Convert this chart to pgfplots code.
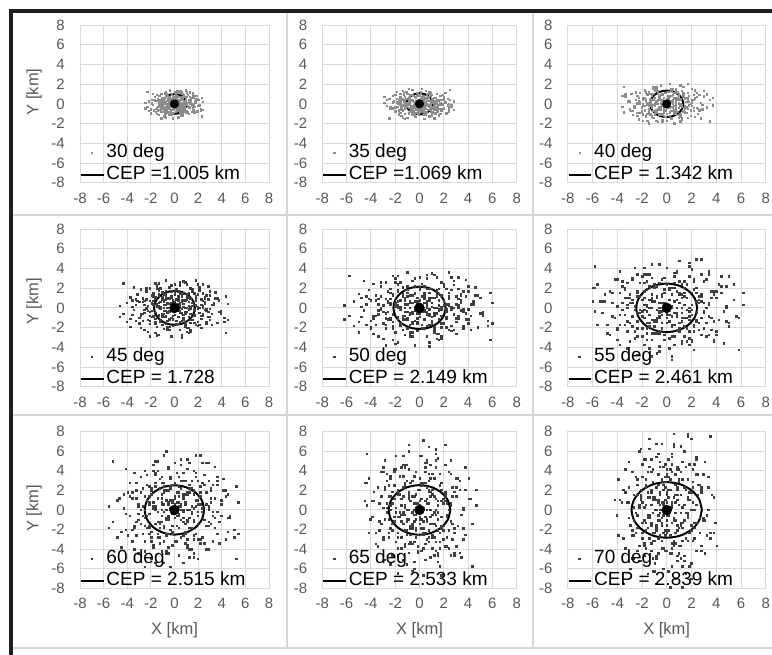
\documentclass[border=0pt]{standalone}
\usepackage{fontspec}
\setmainfont{Liberation Sans}
\usepackage{pgfplots}
\pgfplotsset{compat=1.18}

\definecolor{gridgray}{RGB}{217,217,217}
\definecolor{labelgray}{RGB}{89,89,89}
\definecolor{sepgray}{RGB}{214,214,214}
\definecolor{lightpt}{RGB}{140,140,140}
\definecolor{darkpt}{RGB}{62,62,62}

\pgfplotsset{
  cep/.style={
    scale only axis, anchor=south west,
    xmin=-8, xmax=8, ymin=-8, ymax=8,
    xtick={-8,-6,...,8}, ytick={-8,-6,...,8},
    grid=major,
    major grid style={draw=gridgray, line width=0.9pt},
    axis line style={draw=gridgray, line width=0.9pt},
    tick style={draw=none},
    /pgf/number format/assume math mode=true,
    tick label style={font=\fontsize{15}{15}\selectfont, text=labelgray, inner sep=0pt},
    xticklabel style={anchor=north, yshift=-10pt},
    yticklabel style={anchor=east, xshift=-15pt},
    legend style={at={(0,0)}, anchor=south west, yshift=-1.8pt,
      draw=none, fill=none, inner sep=0pt, outer sep=0pt,
      font=\fontsize{19}{19}\selectfont, text=black,
      row sep=3.8pt, column sep=1.7pt,
      nodes={inner sep=0pt, text height=14pt, text depth=4.5pt}},
    legend cell align=left,
    label style={font=\fontsize{16.5}{16.5}\selectfont, text=labelgray},
  },
  ylab/.style={ylabel={Y [km]}, ylabel style={at={(axis description cs:-0.243,#1)}, anchor=center}},
  xlab/.style={xlabel={X [km]}, xlabel style={at={(axis description cs:0.5,-0.266)}, anchor=center}},
  darkpts/.style={only marks, mark=square*, mark size=0.75pt, color=darkpt,
    mark options={draw=none, fill=darkpt},
    legend image code/.code={\path[draw=none, fill=none] (0pt,0pt) -- (22.6pt,0pt);
      \fill[darkpt] (9.85pt,-0.75pt) rectangle (11.35pt,0.75pt);}},
  lightpts/.style={only marks, mark=square*, mark size=0.7pt, color=lightpt,
    mark options={draw=none, fill=lightpt},
    legend image code/.code={\path[draw=none, fill=none] (0pt,0pt) -- (22.6pt,0pt);
      \fill[lightpt] (9.9pt,-0.7pt) rectangle (11.3pt,0.7pt);}},
  cepline/.style={black, line width=2pt, smooth, mark=none,
    legend image code/.code={\draw[black, line width=2.2pt] (0pt,0pt) -- (22.6pt,0pt);}},
  mip/.style={only marks, mark=*, mark size=#1, mark options={draw=none, fill=black}, forget plot},
}

\begin{document}
\begin{tikzpicture}
\useasboundingbox (0pt,0pt) rectangle (772pt,655pt);

% ---------------- 30 deg ----------------
\begin{axis}[cep, ylab=0.576, at={(80pt,472.3pt)}, width=189pt, height=157.7pt]
\addplot[lightpts] coordinates {
(0.24,-0.25) (-0.96,0.2) (0.64,0.55) (-0.32,-0.65) (1.28,0.1) (-0.72,-0.35) (0.08,0.45) (1.68,-0.3) (-1.44,0.5) (0.48,-0.95)
(-0.16,0.05) (0.88,-0.15) (-0.56,0.8) (0.32,0.3) (-1.2,-0.6) (2.0,0.4) (-0.08,-0.4) (0.72,1.0) (-1.84,-0.1) (1.04,-0.7)
(-0.4,0.15) (0.16,-0.1) (-0.8,1.15) (1.44,0.65) (-0.24,-1.1) (0.56,0) (-1.12,0.35) (0,0.7) (2.24,-0.5) (-0.64,-0.05)
(0.8,0.25) (-1.6,-0.8) (0.4,-0.55) (-0.48,0.4) (1.12,0.9) (-0.88,-1.25) (0.24,0.15) (-2.16,0.25) (1.52,-0.2) (-0.16,0.6)
(0.64,-0.45) (-1.28,0) (0.08,-0.8) (0.96,0.45) (-0.72,0.95) (1.76,0.15) (-0.32,-0.2) (0.48,1.3) (-1.04,-0.45) (1.2,-1.0)
(-0.08,0.25) (0.72,-0.3) (-1.68,0.7) (0.32,-0.05) (-0.56,-0.85) (1.36,0.3) (-1.36,-0.25) (0.16,0.85) (1.92,-0.75) (-0.4,-0.45)
(0.88,0.75) (-0.8,0.1) (0,-0.2) (-2.0,-0.55) (0.56,-1.2) (-0.24,1.05) (1.04,0.05) (-0.96,0.6) (0.4,0.2) (2.4,0.2)
(-0.48,-0.15) (0.72,0.5) (-1.52,-1.0) (1.28,-0.4) (-0.64,0.3) (0.24,-0.7) (-1.12,1.0) (1.6,0.85) (-0.16,-0.5) (0.48,0.4)
(-2.32,-0.3) (0.96,-0.85) (-0.32,0.5) (0.08,0) (-0.88,-0.7) (1.52,1.1) (-0.72,0) (0.64,-0.1) (-1.28,0.85) (2.08,-0.15)
(-0.4,1.4) (0.32,-1.35) (-1.04,0.25) (1.12,-0.25) (-0.08,-0.9) (0.56,0.65) (-1.76,0.45) (0.8,-0.6) (-0.56,-0.3) (0.16,0.35)
(-1.44,-0.65) (1.36,0.55) (-0.24,0.2) (0.72,-1.1) (-1.2,-0.15) (1.84,0.5) (-0.48,0.7) (0.4,-0.35) (-1.92,0.05) (1.2,0.15)
(-0.8,-0.95) (0,1.2) (-0.64,-0.6) (0.88,-0.05) (-1.36,0.15) (0.24,0.75) (1.6,-0.6) (-0.32,0) (0.48,-0.75) (-0.96,-0.4)
(1.04,1.2) (-1.6,0.3) (0.64,0.1) (-0.16,-1.45) (1.44,-0.05) (-0.88,0.55) (0.32,-0.3) (-0.72,1.25) (2.32,0.6) (-0.48,-1.05)
(0.8,0.95) (-1.12,-0.8) (0.16,-0.45) (-2.48,0.1) (1.28,0.75) (-0.4,0.45) (0.56,-0.2) (-1.52,-0.4) (0.96,0.35) (-0.24,-0.15)
(0.24,1.3) (-0.96,-0.45) (0.64,-1.0) (-0.32,0.25) (1.28,-0.3) (-0.72,0.7) (0.08,-0.05) (1.68,-0.85) (-1.44,0.3) (0.48,-0.25)
(-0.16,0.85) (0.88,-0.75) (-0.56,-0.45) (0.32,0.75) (-1.2,0.1) (2.0,-0.2) (-0.08,-0.55) (0.72,-1.2) (-1.84,1.05) (1.04,0.05)
(-0.4,0.6) (0.16,0.2) (-0.8,0.2) (1.44,-0.15) (-0.24,0.5) (0.56,-1.0) (-1.12,-0.4) (0,0.3) (2.24,-0.7) (-0.64,1.0)
(0.8,0.85) (-1.6,-0.5) (0.4,0.4) (-0.48,-0.3) (1.12,-0.85) (-0.88,0.5) (0.24,0) (-2.16,-0.7) (1.52,1.1) (-0.16,0)
(0.64,-0.1) (-1.28,0.85) (0.08,-0.15) (0.96,1.4) (-0.72,-1.35) (1.76,0.25) (-0.32,-0.25) (0.48,-0.9) (-1.04,0.65) (1.2,0.45)
(-0.08,-0.6) (0.72,-0.3) (-1.68,0.35) (0.32,-0.65) (-0.56,0.55) (1.36,0.2) (-1.36,-1.1) (0.16,-0.15) (1.92,0.5) (-0.4,0.7)
(0.88,-0.35) (-0.8,0.05) (0,0.15) (-2.0,-0.95) (0.56,1.2) (-0.24,-0.6) (1.04,-0.05) (-0.96,0.15) (0.4,0.75) (2.4,-0.6)
(-0.48,0) (0.72,-0.75) (-1.52,-0.4) (1.28,1.2) (-0.64,0.3) (0.24,0.1) (-1.12,-1.45) (1.6,-0.05) (-0.16,0.55) (0.48,-0.3)
(-2.32,1.25) (0.96,0.6) (-0.32,-1.05) (0.08,0.95) (-0.88,-0.8) (1.52,-0.45) (-0.72,0.1) (0.64,0.75) (-1.28,0.45) (2.08,-0.2)
(-0.4,-0.4) (0.32,0.35) (-1.04,-0.15) (1.12,-0.25) (-0.08,0.2) (0.56,0.55) (-1.76,-0.65) (0.8,0.1) (-0.56,-0.35) (0.16,0.45)
(-1.44,-0.3) (1.36,0.5) (-0.24,-0.95) (0.72,0.05) (-1.2,-0.15) (1.84,0.8) (-0.48,0.3) (0.4,-0.6) (-1.92,0.4) (1.2,-0.4)
(-0.8,1.0) (0,-0.1) (-0.64,-0.7) (0.88,0.15) (-1.36,-0.1) (0.24,1.15) (1.6,0.65) (-0.32,-1.1) (0.48,0) (-0.96,0.35)
(1.04,0.7) (-1.6,-0.5) (0.64,-0.05) (-0.16,0.25) (1.44,-0.8) (-0.88,-0.55) (0.32,0.4) (-0.72,0.9) (2.32,-1.25) (-0.48,0.15)
(0.8,0.25) (-1.12,-0.2) (0.16,0.6) (-2.48,-0.45) (1.28,0) (-0.4,-0.8) (0.56,0.45) (-1.52,0.95) (0.96,0.15) (-0.24,-0.2)
};
\addlegendentry{30 deg}
\addplot[cepline] coordinates {
(1.005,0) (0.929,0.385) (0.711,0.711) (0.385,0.929) (0,1.005) (-0.385,0.929) (-0.711,0.711) (-0.929,0.385)
(-1.005,0) (-0.929,-0.385) (-0.711,-0.711) (-0.385,-0.929) (0,-1.005) (0.385,-0.929) (0.711,-0.711) (0.929,-0.385) (1.005,0)
};
\addlegendentry{CEP =1.005 km}
\addplot[mip=4.3pt] coordinates {(0,0)};
\end{axis}

% ---------------- 35 deg ----------------
\begin{axis}[cep, at={(322.3pt,472.3pt)}, width=194.4pt, height=157.7pt]
\addplot[lightpts] coordinates {
(-0.5,-0.15) (0.4,0.6) (1.1,-0.4) (-1.3,0.2) (0.2,-0.8) (-0.7,0.45) (0.9,-0.05) (-0.6,-1.05) (1.0,0.9) (-1.9,-0.3)
(0.1,0.1) (-0.3,-0.55) (1.6,0.35) (0.6,-0.2) (-1.2,0.75) (0.8,-1.25) (-0.8,0.05) (2.0,-0.45) (-0.2,1.15) (-1.4,-0.65)
(0.3,0.25) (-0.2,-0.1) (2.3,0.5) (1.3,-0.9) (-2.2,0.15) (0,-0.35) (0.7,0.7) (1.4,0) (-1.0,-1.4) (-0.1,0.4)
(0.5,-0.5) (-1.6,1.0) (-1.1,-0.25) (0.8,0.3) (1.8,-0.7) (-2.5,0.55) (0.3,-0.15) (0.5,1.35) (-0.4,-0.95) (1.2,0.1)
(-0.9,-0.4) (0,0.8) (-1.6,-0.05) (0.9,-0.6) (1.9,0.45) (0.3,-1.1) (-0.4,0.2) (2.6,-0.3) (-0.9,0.65) (-2.0,-0.75)
(0.5,0.05) (-0.6,-0.45) (1.4,1.05) (-0.1,-0.2) (-1.7,0.35) (0.6,-0.85) (-0.5,0.85) (1.7,-0.1) (-1.5,-1.2) (-0.9,0.25)
(1.5,-0.55) (0.2,0.5) (-0.4,0) (-1.1,1.25) (-2.4,-0.35) (2.1,0.15) (0.1,-0.65) (1.2,0.6) (0.4,-0.25) (0.4,-1.5)
(-0.3,0.3) (1.0,-0.45) (-2.0,0.95) (-0.8,-0.8) (0.6,0.4) (-1.4,-0.15) (2.0,0.7) (1.7,-1.0) (-1.0,0.1) (0.8,-0.3)
(-0.6,1.45) (-1.7,-0.6) (1.0,0.2) (0,-0.05) (-1.4,0.55) (2.2,-0.95) (0,0.45) (-0.2,-0.4) (1.7,0.8) (-0.3,-1.3)
(2.8,0.25) (-2.7,-0.2) (0.5,0.65) (-0.5,-0.7) (-1.8,0.05) (1.3,-0.35) (0.9,1.1) (-1.2,-0.5) (-0.6,0.35) (0.7,-0.1)
(-1.3,0.9) (1.1,-0.85) (0.4,0.15) (-2.2,-0.45) (-0.3,0.75) (1.0,-1.15) (1.4,0.3) (-0.7,-0.25) (0.1,1.2) (0.3,-0.75)
(-1.9,0.5) (2.4,0) (-1.2,0.4) (-0.1,-0.55) (0.3,0.85) (1.5,-0.15) (-1.2,-1.0) (0,0.2) (-1.5,-0.3) (-0.8,0.6)
(2.4,-0.65) (0.6,1.0) (0.2,-0.4) (-2.9,0.1) (-0.1,-0.9) (1.1,0.55) (-0.6,-0.2) (2.5,0.45) (1.2,-1.45) (-2.1,0.3)
(1.9,-0.5) (-1.6,0.7) (-0.9,-0.1) (0.2,1.55) (1.5,-0.8) (0.9,0.25) (-0.4,-0.35) (-0.8,0.95) (0.7,-0.6) (-0.3,0.15)
(2.6,-0.15) (-0.9,0.6) (-2.0,-0.4) (0.5,0.2) (-0.6,-0.8) (1.4,0.45) (-0.1,-0.05) (-1.7,-1.05) (0.6,0.9) (-0.5,-0.3)
(1.7,0.1) (-1.5,-0.55) (-0.9,0.35) (1.5,-0.2) (0.2,0.75) (-0.4,-1.25) (-1.1,0.05) (-2.4,-0.45) (2.1,1.15) (0.1,-0.65)
(1.2,0.25) (0.4,-0.1) (0.4,0.5) (-0.3,-0.9) (1.0,0.15) (-2.0,-0.35) (-0.8,0.7) (0.6,0) (-1.4,-1.4) (2.0,0.4)
(1.7,-0.5) (-1.0,1.0) (0.8,-0.25) (-0.6,0.3) (-1.7,-0.7) (1.0,0.55) (0,-0.15) (-1.4,1.35) (2.2,-0.95) (0,0.1)
(-0.2,-0.4) (1.7,0.8) (-0.3,-0.05) (2.8,-0.6) (-2.7,0.45) (0.5,-1.1) (-0.5,0.2) (-1.8,-0.3) (1.3,0.65) (0.9,-0.75)
(-1.2,0.05) (-0.6,-0.45) (0.7,1.05) (-1.3,-0.2) (1.1,0.35) (0.4,-0.85) (-2.2,0.85) (-0.3,-0.1) (1.0,-1.2) (1.4,0.25)
(-0.7,-0.55) (0.1,0.5) (0.3,0) (-1.9,1.25) (2.4,-0.35) (-1.2,0.15) (-0.1,-0.65) (0.3,0.6) (1.5,-0.25) (-1.2,-1.5)
(0,0.3) (-1.5,-0.45) (-0.8,0.95) (2.4,-0.8) (0.6,0.4) (0.2,-0.15) (-2.9,0.7) (-0.1,-1.0) (1.1,0.1) (-0.6,-0.3)
(2.5,1.45) (1.2,-0.6) (-2.1,0.2) (1.9,-0.05) (-1.6,0.55) (-0.9,-0.95) (0.2,0.45) (1.5,-0.4) (0.9,0.8) (-0.4,-1.3)
(-0.8,0.25) (0.7,-0.2) (-0.3,0.65) (-0.5,-0.7) (0.4,0.05) (1.1,-0.35) (-1.3,1.1) (0.2,-0.5) (-0.7,0.35) (0.9,-0.1)
(-0.6,0.9) (1.0,-0.85) (-1.9,0.15) (0.1,-0.45) (-0.3,0.75) (1.6,-1.15) (0.6,0.3) (-1.2,-0.25) (0.8,1.2) (-0.8,-0.75)
(2.0,0.5) (-0.2,0) (-1.4,0.4) (0.3,-0.55) (-0.2,0.85) (2.3,-0.15) (1.3,-1.0) (-2.2,0.2) (0,-0.3) (0.7,0.6)
(1.4,-0.65) (-1.0,1.0) (-0.1,-0.4) (0.5,0.1) (-1.6,-0.9) (-1.1,0.55) (0.8,-0.2) (1.8,0.45) (-2.5,-1.45) (0.3,0.3)
(0.5,-0.5) (-0.4,0.7) (1.2,-0.1) (-0.9,1.55) (0,-0.8) (-1.6,0.25) (0.9,-0.35) (1.9,0.95) (0.3,-0.6) (-0.4,0.15)
};
\addlegendentry{35 deg}
\addplot[cepline] coordinates {
(1.069,0) (0.988,0.409) (0.756,0.756) (0.409,0.988) (0,1.069) (-0.409,0.988) (-0.756,0.756) (-0.988,0.409)
(-1.069,0) (-0.988,-0.409) (-0.756,-0.756) (-0.409,-0.988) (0,-1.069) (0.409,-0.988) (0.756,-0.756) (0.988,-0.409) (1.069,0)
};
\addlegendentry{CEP =1.069 km}
\addplot[mip=4.3pt] coordinates {(0,0)};
\end{axis}

% ---------------- 40 deg ----------------
\begin{axis}[cep, at={(567.7pt,472.3pt)}, width=198pt, height=157.7pt]
\addplot[lightpts] coordinates {
(-0.36,0.35) (1.44,-0.28) (-0.96,-0.77) (0.48,0.91) (-1.92,-0.14) (1.08,0.49) (-0.12,-0.63) (-2.52,0.42) (2.16,-0.7) (-0.72,1.33)
(0.24,-0.07) (-1.32,0.21) (0.84,-1.12) (-0.48,-0.42) (1.8,0.84) (-3.0,-0.56) (0.12,0.56) (-1.08,-1.4) (2.76,0.14) (-1.56,0.98)
(0.6,-0.21) (-0.24,0.14) (1.2,-1.61) (-2.16,-0.91) (0.36,1.54) (-0.84,0) (1.68,-0.49) (0,-0.98) (-3.36,0.7) (0.96,0.07)
(-1.2,-0.35) (2.4,1.12) (-0.6,0.77) (0.72,-0.56) (-1.68,-1.26) (1.32,1.75) (-0.36,-0.21) (3.24,-0.35) (-2.28,0.28) (0.24,-0.84)
(-0.96,0.63) (1.92,0) (-0.12,1.12) (-1.44,-0.63) (1.08,-1.33) (-2.64,-0.21) (0.48,0.28) (-0.72,-1.82) (1.56,0.63) (-1.8,1.4)
(0.12,-0.35) (-1.08,0.42) (2.52,-0.98) (-0.48,0.07) (0.84,1.19) (-2.04,-0.42) (2.04,0.35) (-0.24,-1.19) (-2.88,1.05) (0.6,0.63)
(-1.32,-1.05) (1.2,-0.14) (0,0.28) (3.0,0.77) (-0.84,1.68) (0.36,-1.47) (-1.56,-0.07) (1.44,-0.84) (-0.6,-0.28) (-3.6,-0.28)
(0.72,0.21) (-1.08,-0.7) (2.28,1.4) (-1.92,0.56) (0.96,-0.42) (-0.36,0.98) (1.68,-1.4) (-2.4,-1.19) (0.24,0.7) (-0.72,-0.56)
(3.48,0.42) (-1.44,1.19) (0.48,-0.7) (-0.12,0) (1.32,0.98) (-2.28,-1.54) (1.08,0) (-0.96,0.14) (1.92,-1.19) (-3.12,0.21)
(0.6,-1.96) (-0.48,1.89) (1.56,-0.35) (-1.68,0.35) (0.12,1.26) (-0.84,-0.91) (2.64,-0.63) (-1.2,0.84) (0.84,0.42) (-0.24,-0.49)
(2.16,0.91) (-2.04,-0.77) (0.36,-0.28) (-1.08,1.54) (1.8,0.21) (-2.76,-0.7) (0.72,-0.98) (-0.6,0.49) (2.88,-0.07) (-1.8,-0.21)
(1.2,1.33) (0,-1.68) (0.96,0.84) (-1.32,0.07) (2.04,-0.21) (-0.36,-1.05) (-2.4,0.84) (0.48,0) (-0.72,1.05) (1.44,0.56)
(-1.56,-1.68) (2.4,-0.42) (-0.96,-0.14) (0.24,2.03) (-2.16,0.07) (1.32,-0.77) (-0.48,0.42) (1.08,-1.75) (-3.48,-0.84) (0.72,1.47)
(-1.2,-1.33) (1.68,1.12) (-0.24,0.63) (3.72,-0.14) (-1.92,-1.05) (0.6,-0.63) (-0.84,0.28) (2.28,0.56) (-1.44,-0.49) (0.36,0.21)
(-0.36,-1.82) (1.44,0.63) (-0.96,1.4) (0.48,-0.35) (-1.92,0.42) (1.08,-0.98) (-0.12,0.07) (-2.52,1.19) (2.16,-0.42) (-0.72,0.35)
(0.24,-1.19) (-1.32,1.05) (0.84,0.63) (-0.48,-1.05) (1.8,-0.14) (-3.0,0.28) (0.12,0.77) (-1.08,1.68) (2.76,-1.47) (-1.56,-0.07)
(0.6,-0.84) (-0.24,-0.28) (1.2,-0.28) (-2.16,0.21) (0.36,-0.7) (-0.84,1.4) (1.68,0.56) (0,-0.42) (-3.36,0.98) (0.96,-1.4)
(-1.2,-1.19) (2.4,0.7) (-0.6,-0.56) (0.72,0.42) (-1.68,1.19) (1.32,-0.7) (-0.36,0) (3.24,0.98) (-2.28,-1.54) (0.24,0)
(-0.96,0.14) (1.92,-1.19) (-0.12,0.21) (-1.44,-1.96) (1.08,1.89) (-2.64,-0.35) (0.48,0.35) (-0.72,1.26) (1.56,-0.91) (-1.8,-0.63)
(0.12,0.84) (-1.08,0.42) (2.52,-0.49) (-0.48,0.91) (0.84,-0.77) (-2.04,-0.28) (2.04,1.54) (-0.24,0.21) (-2.88,-0.7) (0.6,-0.98)
(-1.32,0.49) (1.2,-0.07) (0,-0.21) (3.0,1.33) (-0.84,-1.68) (0.36,0.84) (-1.56,0.07) (1.44,-0.21) (-0.6,-1.05) (-3.6,0.84)
(0.72,0) (-1.08,1.05) (2.28,0.56) (-1.92,-1.68) (0.96,-0.42) (-0.36,-0.14) (1.68,2.03) (-2.4,0.07) (0.24,-0.77) (-0.72,0.42)
(3.48,-1.75) (-1.44,-0.84) (0.48,1.47) (-0.12,-1.33) (1.32,1.12) (-2.28,0.63) (1.08,-0.14) (-0.96,-1.05) (1.92,-0.63) (-3.12,0.28)
(0.6,0.56) (-0.48,-0.49) (1.56,0.21) (-1.68,0.35) (0.12,-0.28) (-0.84,-0.77) (2.64,0.91) (-1.2,-0.14) (0.84,0.49) (-0.24,-0.63)
(2.16,0.42) (-2.04,-0.7) (0.36,1.33) (-1.08,-0.07) (1.8,0.21) (-2.76,-1.12) (0.72,-0.42) (-0.6,0.84) (2.88,-0.56) (-1.8,0.56)
(1.2,-1.4) (0,0.14) (0.96,0.98) (-1.32,-0.21) (2.04,0.14) (-0.36,-1.61) (-2.4,-0.91) (0.48,1.54) (-0.72,0) (1.44,-0.49)
(-1.56,-0.98) (2.4,0.7) (-0.96,0.07) (0.24,-0.35) (-2.16,1.12) (1.32,0.77) (-0.48,-0.56) (1.08,-1.26) (-3.48,1.75) (0.72,-0.21)
(-1.2,-0.35) (1.68,0.28) (-0.24,-0.84) (3.72,0.63) (-1.92,0) (0.6,1.12) (-0.84,-0.63) (2.28,-1.33) (-1.44,-0.21) (0.36,0.28)
};
\addlegendentry{40 deg}
\addplot[cepline] coordinates {
(1.342,0) (1.240,0.514) (0.949,0.949) (0.514,1.240) (0,1.342) (-0.514,1.240) (-0.949,0.949) (-1.240,0.514)
(-1.342,0) (-1.240,-0.514) (-0.949,-0.949) (-0.514,-1.240) (0,-1.342) (0.514,-1.240) (0.949,-0.949) (1.240,-0.514) (1.342,0)
};
\addlegendentry{CEP = 1.342 km}
\addplot[mip=4.3pt] coordinates {(0,0)};
\end{axis}

% ---------------- 45 deg ----------------
\begin{axis}[cep, ylab=0.54, at={(80pt,268.3pt)}, width=189pt, height=157.7pt]
\addplot[darkpts] coordinates {
(0.45,-0.5) (-1.8,0.4) (1.2,1.1) (-0.6,-1.3) (2.4,0.2) (-1.35,-0.7) (0.15,0.9) (3.15,-0.6) (-2.7,1.0) (0.9,-1.9)
(-0.3,0.1) (1.65,-0.3) (-1.05,1.6) (0.6,0.6) (-2.25,-1.2) (3.75,0.8) (-0.15,-0.8) (1.35,2.0) (-3.45,-0.2) (1.95,-1.4)
(-0.75,0.3) (0.3,-0.2) (-1.5,2.3) (2.7,1.3) (-0.45,-2.2) (1.05,0) (-2.1,0.7) (0,1.4) (4.2,-1.0) (-1.2,-0.1)
(1.5,0.5) (-3.0,-1.6) (0.75,-1.1) (-0.9,0.8) (2.1,1.8) (-1.65,-2.5) (0.45,0.3) (-4.05,0.5) (2.85,-0.4) (-0.3,1.2)
(1.2,-0.9) (-2.4,0) (0.15,-1.6) (1.8,0.9) (-1.35,1.9) (3.3,0.3) (-0.6,-0.4) (0.9,2.6) (-1.95,-0.9) (2.25,-2.0)
(-0.15,0.5) (1.35,-0.6) (-3.15,1.4) (0.6,-0.1) (-1.05,-1.7) (2.55,0.6) (-2.55,-0.5) (0.3,1.7) (3.6,-1.5) (-0.75,-0.9)
(1.65,1.5) (-1.5,0.2) (0,-0.4) (-3.75,-1.1) (1.05,-2.4) (-0.45,2.1) (1.95,0.1) (-1.8,1.2) (0.75,0.4) (4.5,0.4)
(-0.9,-0.3) (1.35,1.0) (-2.85,-2.0) (2.4,-0.8) (-1.2,0.6) (0.45,-1.4) (-2.1,2.0) (3.0,1.7) (-0.3,-1.0) (0.9,0.8)
(-4.35,-0.6) (1.8,-1.7) (-0.6,1.0) (0.15,0) (-1.65,-1.4) (2.85,2.2) (-1.35,0) (1.2,-0.2) (-2.4,1.7) (3.9,-0.3)
(-0.75,2.8) (0.6,-2.7) (-1.95,0.5) (2.1,-0.5) (-0.15,-1.8) (1.05,1.3) (-3.3,0.9) (1.5,-1.2) (-1.05,-0.6) (0.3,0.7)
(-2.7,-1.3) (2.55,1.1) (-0.45,0.4) (1.35,-2.2) (-2.25,-0.3) (3.45,1.0) (-0.9,1.4) (0.75,-0.7) (-3.6,0.1) (2.25,0.3)
(-1.5,-1.9) (0,2.4) (-1.2,-1.2) (1.65,-0.1) (-2.55,0.3) (0.45,1.5) (3.0,-1.2) (-0.6,0) (0.9,-1.5) (-1.8,-0.8)
(1.95,2.4) (-3.0,0.6) (1.2,0.2) (-0.3,-2.9) (2.7,-0.1) (-1.65,1.1) (0.6,-0.6) (-1.35,2.5) (4.35,1.2) (-0.9,-2.1)
(1.5,1.9) (-2.1,-1.6) (0.3,-0.9) (-4.65,0.2) (2.4,1.5) (-0.75,0.9) (1.05,-0.4) (-2.85,-0.8) (1.8,0.7) (-0.45,-0.3)
(-0.75,-0.3) (0.6,1.2) (1.65,-0.8) (-1.95,0.4) (0.3,-1.6) (-1.05,0.9) (1.35,-0.1) (-0.9,-2.1) (1.5,1.8) (-2.85,-0.6)
(0.15,0.2) (-0.45,-1.1) (2.4,0.7) (0.9,-0.4) (-1.8,1.5) (1.2,-2.5) (-1.2,0.1) (3.0,-0.9) (-0.3,2.3) (-2.1,-1.3)
(0.45,0.5) (-0.3,-0.2) (3.45,1.0) (1.95,-1.8) (-3.3,0.3) (0,-0.7) (1.05,1.4) (2.1,0) (-1.5,-2.8) (-0.15,0.8)
(0.75,-1.0) (-2.4,2.0) (-1.65,-0.5) (1.2,0.6) (2.7,-1.4) (-3.75,1.1) (0.45,-0.3) (0.75,2.7) (-0.6,-1.9) (1.8,0.2)
(-1.35,-0.8) (0,1.6) (-2.4,-0.1) (1.35,-1.2) (2.85,0.9) (0.45,-2.2) (-0.6,0.4) (3.9,-0.6) (-1.35,1.3) (-3.0,-1.5)
(0.75,0.1) (-0.9,-0.9) (2.1,2.1) (-0.15,-0.4) (-2.55,0.7) (0.9,-1.7) (-0.75,1.7) (2.55,-0.2) (-2.25,-2.4) (-1.35,0.5)
(2.25,-1.1) (0.3,1.0) (-0.6,0) (-1.65,2.5) (-3.6,-0.7) (3.15,0.3) (0.15,-1.3) (1.8,1.2) (0.6,-0.5) (0.6,-3.0)
(0.45,2.6) (-1.8,-0.9) (1.2,-2.0) (-0.6,0.5) (2.4,-0.6) (-1.35,1.4) (0.15,-0.1) (3.15,-1.7) (-2.7,0.6) (0.9,-0.5)
(-0.3,1.7) (1.65,-1.5) (-1.05,-0.9) (0.6,1.5) (-2.25,0.2) (3.75,-0.4) (-0.15,-1.1) (1.35,-2.4) (-3.45,2.1) (1.95,0.1)
(-0.75,1.2) (0.3,0.4) (-1.5,0.4) (2.7,-0.3) (-0.45,1.0) (1.05,-2.0) (-2.1,-0.8) (0,0.6) (4.2,-1.4) (-1.2,2.0)
(1.5,1.7) (-3.0,-1.0) (0.75,0.8) (-0.9,-0.6) (2.1,-1.7) (-1.65,1.0) (0.45,0) (-4.05,-1.4) (2.85,2.2) (-0.3,0)
(1.2,-0.2) (-2.4,1.7) (0.15,-0.3) (1.8,2.8) (-1.35,-2.7) (3.3,0.5) (-0.6,-0.5) (0.9,-1.8) (-1.95,1.3) (2.25,0.9)
(-0.15,-1.2) (1.35,-0.6) (-3.15,0.7) (0.6,-1.3) (-1.05,1.1) (2.55,0.4) (-2.55,-2.2) (0.3,-0.3) (3.6,1.0) (-0.75,1.4)
(1.65,-0.7) (-1.5,0.1) (0,0.3) (-3.75,-1.9) (1.05,2.4) (-0.45,-1.2) (1.95,-0.1) (-1.8,0.3) (0.75,1.5) (4.5,-1.2)
(-0.9,0) (1.35,-1.5) (-2.85,-0.8) (2.4,2.4) (-1.2,0.6) (0.45,0.2) (-2.1,-2.9) (3.0,-0.1) (-0.3,1.1) (0.9,-0.6)
(-4.35,2.5) (1.8,1.2) (-0.6,-2.1) (0.15,1.9) (-1.65,-1.6) (2.85,-0.9) (-1.35,0.2) (1.2,1.5) (-2.4,0.9) (3.9,-0.4)
(-0.75,-0.8) (0.6,0.7) (-1.95,-0.3) (2.1,-0.5) (-0.15,0.4) (1.05,1.1) (-3.3,-1.3) (1.5,0.2) (-1.05,-0.7) (0.3,0.9)
(-2.7,-0.6) (2.55,1.0) (-0.45,-1.9) (1.35,0.1) (-2.25,-0.3) (3.45,1.6) (-0.9,0.6) (0.75,-1.2) (-3.6,0.8) (2.25,-0.8)
(-1.5,2.0) (0,-0.2) (-1.2,-1.4) (1.65,0.3) (-2.55,-0.2) (0.45,2.3) (3.0,1.3) (-0.6,-2.2) (0.9,0) (-1.8,0.7)
(1.95,1.4) (-3.0,-1.0) (1.2,-0.1) (-0.3,0.5) (2.7,-1.6) (-1.65,-1.1) (0.6,0.8) (-1.35,1.8) (4.35,-2.5) (-0.9,0.3)
(1.5,0.5) (-2.1,-0.4) (0.3,1.2) (-4.65,-0.9) (2.4,0) (-0.75,-1.6) (1.05,0.9) (-2.85,1.9) (1.8,0.3) (-0.45,-0.4)
};
\addlegendentry{45 deg}
\addplot[cepline] coordinates {
(1.728,0) (1.596,0.661) (1.222,1.222) (0.661,1.596) (0,1.728) (-0.661,1.596) (-1.222,1.222) (-1.596,0.661)
(-1.728,0) (-1.596,-0.661) (-1.222,-1.222) (-0.661,-1.596) (0,-1.728) (0.661,-1.596) (1.222,-1.222) (1.596,-0.661) (1.728,0)
};
\addlegendentry{CEP = 1.728}
\addplot[mip=5pt] coordinates {(0,0)};
\end{axis}

% ---------------- 50 deg ----------------
\begin{axis}[cep, at={(322.3pt,268.3pt)}, width=194.4pt, height=157.7pt]
\addplot[darkpts] coordinates {
(0.6,-0.65) (-2.4,0.52) (1.6,1.43) (-0.8,-1.69) (3.2,0.26) (-1.8,-0.91) (0.2,1.17) (4.2,-0.78) (-3.6,1.3) (1.2,-2.47)
(-0.4,0.13) (2.2,-0.39) (-1.4,2.08) (0.8,0.78) (-3.0,-1.56) (5.0,1.04) (-0.2,-1.04) (1.8,2.6) (-4.6,-0.26) (2.6,-1.82)
(-1.0,0.39) (0.4,-0.26) (-2.0,2.99) (3.6,1.69) (-0.6,-2.86) (1.4,0) (-2.8,0.91) (0,1.82) (5.6,-1.3) (-1.6,-0.13)
(2.0,0.65) (-4.0,-2.08) (1.0,-1.43) (-1.2,1.04) (2.8,2.34) (-2.2,-3.25) (0.6,0.39) (-5.4,0.65) (3.8,-0.52) (-0.4,1.56)
(1.6,-1.17) (-3.2,0) (0.2,-2.08) (2.4,1.17) (-1.8,2.47) (4.4,0.39) (-0.8,-0.52) (1.2,3.38) (-2.6,-1.17) (3.0,-2.6)
(-0.2,0.65) (1.8,-0.78) (-4.2,1.82) (0.8,-0.13) (-1.4,-2.21) (3.4,0.78) (-3.4,-0.65) (0.4,2.21) (4.8,-1.95) (-1.0,-1.17)
(2.2,1.95) (-2.0,0.26) (0,-0.52) (-5.0,-1.43) (1.4,-3.12) (-0.6,2.73) (2.6,0.13) (-2.4,1.56) (1.0,0.52) (6.0,0.52)
(-1.2,-0.39) (1.8,1.3) (-3.8,-2.6) (3.2,-1.04) (-1.6,0.78) (0.6,-1.82) (-2.8,2.6) (4.0,2.21) (-0.4,-1.3) (1.2,1.04)
(-5.8,-0.78) (2.4,-2.21) (-0.8,1.3) (0.2,0) (-2.2,-1.82) (3.8,2.86) (-1.8,0) (1.6,-0.26) (-3.2,2.21) (5.2,-0.39)
(-1.0,3.64) (0.8,-3.51) (-2.6,0.65) (2.8,-0.65) (-0.2,-2.34) (1.4,1.69) (-4.4,1.17) (2.0,-1.56) (-1.4,-0.78) (0.4,0.91)
(-3.6,-1.69) (3.4,1.43) (-0.6,0.52) (1.8,-2.86) (-3.0,-0.39) (4.6,1.3) (-1.2,1.82) (1.0,-0.91) (-4.8,0.13) (3.0,0.39)
(-2.0,-2.47) (0,3.12) (-1.6,-1.56) (2.2,-0.13) (-3.4,0.39) (0.6,1.95) (4.0,-1.56) (-0.8,0) (1.2,-1.95) (-2.4,-1.04)
(2.6,3.12) (-4.0,0.78) (1.6,0.26) (-0.4,-3.77) (3.6,-0.13) (-2.2,1.43) (0.8,-0.78) (-1.8,3.25) (5.8,1.56) (-1.2,-2.73)
(2.0,2.47) (-2.8,-2.08) (0.4,-1.17) (-6.2,0.26) (3.2,1.95) (-1.0,1.17) (1.4,-0.52) (-3.8,-1.04) (2.4,0.91) (-0.6,-0.39)
(-1.0,-0.39) (0.8,1.56) (2.2,-1.04) (-2.6,0.52) (0.4,-2.08) (-1.4,1.17) (1.8,-0.13) (-1.2,-2.73) (2.0,2.34) (-3.8,-0.78)
(0.2,0.26) (-0.6,-1.43) (3.2,0.91) (1.2,-0.52) (-2.4,1.95) (1.6,-3.25) (-1.6,0.13) (4.0,-1.17) (-0.4,2.99) (-2.8,-1.69)
(0.6,0.65) (-0.4,-0.26) (4.6,1.3) (2.6,-2.34) (-4.4,0.39) (0,-0.91) (1.4,1.82) (2.8,0) (-2.0,-3.64) (-0.2,1.04)
(1.0,-1.3) (-3.2,2.6) (-2.2,-0.65) (1.6,0.78) (3.6,-1.82) (-5.0,1.43) (0.6,-0.39) (1.0,3.51) (-0.8,-2.47) (2.4,0.26)
(-1.8,-1.04) (0,2.08) (-3.2,-0.13) (1.8,-1.56) (3.8,1.17) (0.6,-2.86) (-0.8,0.52) (5.2,-0.78) (-1.8,1.69) (-4.0,-1.95)
(1.0,0.13) (-1.2,-1.17) (2.8,2.73) (-0.2,-0.52) (-3.4,0.91) (1.2,-2.21) (-1.0,2.21) (3.4,-0.26) (-3.0,-3.12) (-1.8,0.65)
(3.0,-1.43) (0.4,1.3) (-0.8,0) (-2.2,3.25) (-4.8,-0.91) (4.2,0.39) (0.2,-1.69) (2.4,1.56) (0.8,-0.65) (0.8,-3.9)
(0.6,3.38) (-2.4,-1.17) (1.6,-2.6) (-0.8,0.65) (3.2,-0.78) (-1.8,1.82) (0.2,-0.13) (4.2,-2.21) (-3.6,0.78) (1.2,-0.65)
(-0.4,2.21) (2.2,-1.95) (-1.4,-1.17) (0.8,1.95) (-3.0,0.26) (5.0,-0.52) (-0.2,-1.43) (1.8,-3.12) (-4.6,2.73) (2.6,0.13)
(-1.0,1.56) (0.4,0.52) (-2.0,0.52) (3.6,-0.39) (-0.6,1.3) (1.4,-2.6) (-2.8,-1.04) (0,0.78) (5.6,-1.82) (-1.6,2.6)
(2.0,2.21) (-4.0,-1.3) (1.0,1.04) (-1.2,-0.78) (2.8,-2.21) (-2.2,1.3) (0.6,0) (-5.4,-1.82) (3.8,2.86) (-0.4,0)
(1.6,-0.26) (-3.2,2.21) (0.2,-0.39) (2.4,3.64) (-1.8,-3.51) (4.4,0.65) (-0.8,-0.65) (1.2,-2.34) (-2.6,1.69) (3.0,1.17)
(-0.2,-1.56) (1.8,-0.78) (-4.2,0.91) (0.8,-1.69) (-1.4,1.43) (3.4,0.52) (-3.4,-2.86) (0.4,-0.39) (4.8,1.3) (-1.0,1.82)
(2.2,-0.91) (-2.0,0.13) (0,0.39) (-5.0,-2.47) (1.4,3.12) (-0.6,-1.56) (2.6,-0.13) (-2.4,0.39) (1.0,1.95) (6.0,-1.56)
(-1.2,0) (1.8,-1.95) (-3.8,-1.04) (3.2,3.12) (-1.6,0.78) (0.6,0.26) (-2.8,-3.77) (4.0,-0.13) (-0.4,1.43) (1.2,-0.78)
(-5.8,3.25) (2.4,1.56) (-0.8,-2.73) (0.2,2.47) (-2.2,-2.08) (3.8,-1.17) (-1.8,0.26) (1.6,1.95) (-3.2,1.17) (5.2,-0.52)
(-1.0,-1.04) (0.8,0.91) (-2.6,-0.39) (2.8,-0.65) (-0.2,0.52) (1.4,1.43) (-4.4,-1.69) (2.0,0.26) (-1.4,-0.91) (0.4,1.17)
(-3.6,-0.78) (3.4,1.3) (-0.6,-2.47) (1.8,0.13) (-3.0,-0.39) (4.6,2.08) (-1.2,0.78) (1.0,-1.56) (-4.8,1.04) (3.0,-1.04)
(-2.0,2.6) (0,-0.26) (-1.6,-1.82) (2.2,0.39) (-3.4,-0.26) (0.6,2.99) (4.0,1.69) (-0.8,-2.86) (1.2,0) (-2.4,0.91)
(2.6,1.82) (-4.0,-1.3) (1.6,-0.13) (-0.4,0.65) (3.6,-2.08) (-2.2,-1.43) (0.8,1.04) (-1.8,2.34) (5.8,-3.25) (-1.2,0.39)
(2.0,0.65) (-2.8,-0.52) (0.4,1.56) (-6.2,-1.17) (3.2,0) (-1.0,-2.08) (1.4,1.17) (-3.8,2.47) (2.4,0.39) (-0.6,-0.52)
};
\addlegendentry{50 deg}
\addplot[cepline] coordinates {
(2.149,0) (1.985,0.822) (1.520,1.520) (0.822,1.985) (0,2.149) (-0.822,1.985) (-1.520,1.520) (-1.985,0.822)
(-2.149,0) (-1.985,-0.822) (-1.520,-1.520) (-0.822,-1.985) (0,-2.149) (0.822,-1.985) (1.520,-1.520) (1.985,-0.822) (2.149,0)
};
\addlegendentry{CEP = 2.149 km}
\addplot[mip=5pt] coordinates {(0,0)};
\end{axis}

% ---------------- 55 deg ----------------
\begin{axis}[cep, at={(567.7pt,268.3pt)}, width=198pt, height=157.7pt]
\addplot[darkpts] coordinates {
(-0.6,-0.85) (2.4,0.68) (-1.6,1.87) (0.8,-2.21) (-3.2,0.34) (1.8,-1.19) (-0.2,1.53) (-4.2,-1.02) (3.6,1.7) (-1.2,-3.23)
(0.4,0.17) (-2.2,-0.51) (1.4,2.72) (-0.8,1.02) (3.0,-2.04) (-5.0,1.36) (0.2,-1.36) (-1.8,3.4) (4.6,-0.34) (-2.6,-2.38)
(1.0,0.51) (-0.4,-0.34) (2.0,3.91) (-3.6,2.21) (0.6,-3.74) (-1.4,0) (2.8,1.19) (0,2.38) (-5.6,-1.7) (1.6,-0.17)
(-2.0,0.85) (4.0,-2.72) (-1.0,-1.87) (1.2,1.36) (-2.8,3.06) (2.2,-4.25) (-0.6,0.51) (5.4,0.85) (-3.8,-0.68) (0.4,2.04)
(-1.6,-1.53) (3.2,0) (-0.2,-2.72) (-2.4,1.53) (1.8,3.23) (-4.4,0.51) (0.8,-0.68) (-1.2,4.42) (2.6,-1.53) (-3.0,-3.4)
(0.2,0.85) (-1.8,-1.02) (4.2,2.38) (-0.8,-0.17) (1.4,-2.89) (-3.4,1.02) (3.4,-0.85) (-0.4,2.89) (-4.8,-2.55) (1.0,-1.53)
(-2.2,2.55) (2.0,0.34) (0,-0.68) (5.0,-1.87) (-1.4,-4.08) (0.6,3.57) (-2.6,0.17) (2.4,2.04) (-1.0,0.68) (-6.0,0.68)
(1.2,-0.51) (-1.8,1.7) (3.8,-3.4) (-3.2,-1.36) (1.6,1.02) (-0.6,-2.38) (2.8,3.4) (-4.0,2.89) (0.4,-1.7) (-1.2,1.36)
(5.8,-1.02) (-2.4,-2.89) (0.8,1.7) (-0.2,0) (2.2,-2.38) (-3.8,3.74) (1.8,0) (-1.6,-0.34) (3.2,2.89) (-5.2,-0.51)
(1.0,4.76) (-0.8,-4.59) (2.6,0.85) (-2.8,-0.85) (0.2,-3.06) (-1.4,2.21) (4.4,1.53) (-2.0,-2.04) (1.4,-1.02) (-0.4,1.19)
(3.6,-2.21) (-3.4,1.87) (0.6,0.68) (-1.8,-3.74) (3.0,-0.51) (-4.6,1.7) (1.2,2.38) (-1.0,-1.19) (4.8,0.17) (-3.0,0.51)
(2.0,-3.23) (0,4.08) (1.6,-2.04) (-2.2,-0.17) (3.4,0.51) (-0.6,2.55) (-4.0,-2.04) (0.8,0) (-1.2,-2.55) (2.4,-1.36)
(-2.6,4.08) (4.0,1.02) (-1.6,0.34) (0.4,-4.93) (-3.6,-0.17) (2.2,1.87) (-0.8,-1.02) (1.8,4.25) (-5.8,2.04) (1.2,-3.57)
(-2.0,3.23) (2.8,-2.72) (-0.4,-1.53) (6.2,0.34) (-3.2,2.55) (1.0,1.53) (-1.4,-0.68) (3.8,-1.36) (-2.4,1.19) (0.6,-0.51)
(-0.6,-1.02) (2.0,1.53) (-4.0,-3.23) (-1.6,2.72) (1.2,-1.36) (-2.8,0.51) (4.0,-2.38) (3.4,3.4) (-2.0,-0.34) (1.6,1.02)
(-1.2,-4.93) (-3.4,2.04) (2.0,-0.68) (0,0.17) (-2.8,-1.87) (4.4,3.23) (0,-1.53) (-0.4,1.36) (3.4,-2.72) (-0.6,4.42)
(5.6,-0.85) (-5.4,0.68) (1.0,-2.21) (-1.0,2.38) (-3.6,-0.17) (2.6,1.19) (1.8,-3.74) (-2.4,1.7) (-1.2,-1.19) (1.4,0.34)
(-2.6,-3.06) (2.2,2.89) (0.8,-0.51) (-4.4,1.53) (-0.6,-2.55) (2.0,3.91) (2.8,-1.02) (-1.4,0.85) (0.2,-4.08) (0.6,2.55)
(-3.8,-1.7) (4.8,0) (-2.4,-1.36) (-0.2,1.87) (0.6,-2.89) (3.0,0.51) (-2.4,3.4) (0,-0.68) (-3.0,1.02) (-1.6,-2.04)
(4.8,2.21) (1.2,-3.4) (0.4,1.36) (-5.8,-0.34) (-0.2,3.06) (2.2,-1.87) (-1.2,0.68) (5.0,-1.53) (2.4,4.93) (-4.2,-1.02)
(3.8,1.7) (-3.2,-2.38) (-1.8,0.34) (0.4,-5.27) (3.0,2.72) (1.8,-0.85) (-0.8,1.19) (-1.6,-3.23) (1.4,2.04) (-0.6,-0.51)
(-0.6,-4.42) (2.4,1.53) (-1.6,3.4) (0.8,-0.85) (-3.2,1.02) (1.8,-2.38) (-0.2,0.17) (-4.2,2.89) (3.6,-1.02) (-1.2,0.85)
(0.4,-2.89) (-2.2,2.55) (1.4,1.53) (-0.8,-2.55) (3.0,-0.34) (-5.0,0.68) (0.2,1.87) (-1.8,4.08) (4.6,-3.57) (-2.6,-0.17)
(1.0,-2.04) (-0.4,-0.68) (2.0,-0.68) (-3.6,0.51) (0.6,-1.7) (-1.4,3.4) (2.8,1.36) (0,-1.02) (-5.6,2.38) (1.6,-3.4)
(-2.0,-2.89) (4.0,1.7) (-1.0,-1.36) (1.2,1.02) (-2.8,2.89) (2.2,-1.7) (-0.6,0) (5.4,2.38) (-3.8,-3.74) (0.4,0)
(-1.6,0.34) (3.2,-2.89) (-0.2,0.51) (-2.4,-4.76) (1.8,4.59) (-4.4,-0.85) (0.8,0.85) (-1.2,3.06) (2.6,-2.21) (-3.0,-1.53)
(0.2,2.04) (-1.8,1.02) (4.2,-1.19) (-0.8,2.21) (1.4,-1.87) (-3.4,-0.68) (3.4,3.74) (-0.4,0.51) (-4.8,-1.7) (1.0,-2.38)
(-2.2,1.19) (2.0,-0.17) (0,-0.51) (5.0,3.23) (-1.4,-4.08) (0.6,2.04) (-2.6,0.17) (2.4,-0.51) (-1.0,-2.55) (-6.0,2.04)
(1.2,0) (-1.8,2.55) (3.8,1.36) (-3.2,-4.08) (1.6,-1.02) (-0.6,-0.34) (2.8,4.93) (-4.0,0.17) (0.4,-1.87) (-1.2,1.02)
(5.8,-4.25) (-2.4,-2.04) (0.8,3.57) (-0.2,-3.23) (2.2,2.72) (-3.8,1.53) (1.8,-0.34) (-1.6,-2.55) (3.2,-1.53) (-5.2,0.68)
(1.0,1.36) (-0.8,-1.19) (2.6,0.51) (-2.8,0.85) (0.2,-0.68) (-1.4,-1.87) (4.4,2.21) (-2.0,-0.34) (1.4,1.19) (-0.4,-1.53)
(3.6,1.02) (-3.4,-1.7) (0.6,3.23) (-1.8,-0.17) (3.0,0.51) (-4.6,-2.72) (1.2,-1.02) (-1.0,2.04) (4.8,-1.36) (-3.0,1.36)
(2.0,-3.4) (0,0.34) (1.6,2.38) (-2.2,-0.51) (3.4,0.34) (-0.6,-3.91) (-4.0,-2.21) (0.8,3.74) (-1.2,0) (2.4,-1.19)
(-2.6,-2.38) (4.0,1.7) (-1.6,0.17) (0.4,-0.85) (-3.6,2.72) (2.2,1.87) (-0.8,-1.36) (1.8,-3.06) (-5.8,4.25) (1.2,-0.51)
(-2.0,-0.85) (2.8,0.68) (-0.4,-2.04) (6.2,1.53) (-3.2,0) (1.0,2.72) (-1.4,-1.53) (3.8,-3.23) (-2.4,-0.51) (0.6,0.68)
};
\addlegendentry{55 deg}
\addplot[cepline] coordinates {
(2.461,0) (2.274,0.942) (1.740,1.740) (0.942,2.274) (0,2.461) (-0.942,2.274) (-1.740,1.740) (-2.274,0.942)
(-2.461,0) (-2.274,-0.942) (-1.740,-1.740) (-0.942,-2.274) (0,-2.461) (0.942,-2.274) (1.740,-1.740) (2.274,-0.942) (2.461,0)
};
\addlegendentry{CEP = 2.461 km}
\addplot[mip=5pt] coordinates {(0,0)};
\end{axis}

% ---------------- 60 deg ----------------
\begin{axis}[cep, ylab=0.51, xlab, at={(80pt,66.7pt)}, width=189pt, height=156.7pt]
\addplot[darkpts] coordinates {
(0.54,-1.0) (-2.16,0.8) (1.44,2.2) (-0.72,-2.6) (2.88,0.4) (-1.62,-1.4) (0.18,1.8) (3.78,-1.2) (-3.24,2.0) (1.08,-3.8)
(-0.36,0.2) (1.98,-0.6) (-1.26,3.2) (0.72,1.2) (-2.7,-2.4) (4.5,1.6) (-0.18,-1.6) (1.62,4.0) (-4.14,-0.4) (2.34,-2.8)
(-0.9,0.6) (0.36,-0.4) (-1.8,4.6) (3.24,2.6) (-0.54,-4.4) (1.26,0) (-2.52,1.4) (0,2.8) (5.04,-2.0) (-1.44,-0.2)
(1.8,1.0) (-3.6,-3.2) (0.9,-2.2) (-1.08,1.6) (2.52,3.6) (-1.98,-5.0) (0.54,0.6) (-4.86,1.0) (3.42,-0.8) (-0.36,2.4)
(1.44,-1.8) (-2.88,0) (0.18,-3.2) (2.16,1.8) (-1.62,3.8) (3.96,0.6) (-0.72,-0.8) (1.08,5.2) (-2.34,-1.8) (2.7,-4.0)
(-0.18,1.0) (1.62,-1.2) (-3.78,2.8) (0.72,-0.2) (-1.26,-3.4) (3.06,1.2) (-3.06,-1.0) (0.36,3.4) (4.32,-3.0) (-0.9,-1.8)
(1.98,3.0) (-1.8,0.4) (0,-0.8) (-4.5,-2.2) (1.26,-4.8) (-0.54,4.2) (2.34,0.2) (-2.16,2.4) (0.9,0.8) (5.4,0.8)
(-1.08,-0.6) (1.62,2.0) (-3.42,-4.0) (2.88,-1.6) (-1.44,1.2) (0.54,-2.8) (-2.52,4.0) (3.6,3.4) (-0.36,-2.0) (1.08,1.6)
(-5.22,-1.2) (2.16,-3.4) (-0.72,2.0) (0.18,0) (-1.98,-2.8) (3.42,4.4) (-1.62,0) (1.44,-0.4) (-2.88,3.4) (4.68,-0.6)
(-0.9,5.6) (0.72,-5.4) (-2.34,1.0) (2.52,-1.0) (-0.18,-3.6) (1.26,2.6) (-3.96,1.8) (1.8,-2.4) (-1.26,-1.2) (0.36,1.4)
(-3.24,-2.6) (3.06,2.2) (-0.54,0.8) (1.62,-4.4) (-2.7,-0.6) (4.14,2.0) (-1.08,2.8) (0.9,-1.4) (-4.32,0.2) (2.7,0.6)
(-1.8,-3.8) (0,4.8) (-1.44,-2.4) (1.98,-0.2) (-3.06,0.6) (0.54,3.0) (3.6,-2.4) (-0.72,0) (1.08,-3.0) (-2.16,-1.6)
(2.34,4.8) (-3.6,1.2) (1.44,0.4) (-0.36,-5.8) (3.24,-0.2) (-1.98,2.2) (0.72,-1.2) (-1.62,5.0) (5.22,2.4) (-1.08,-4.2)
(1.8,3.8) (-2.52,-3.2) (0.36,-1.8) (-5.58,0.4) (2.88,3.0) (-0.9,1.8) (1.26,-0.8) (-3.42,-1.6) (2.16,1.4) (-0.54,-0.6)
(0.9,0.6) (-0.72,-2.4) (-1.98,1.6) (2.34,-0.8) (-0.36,3.2) (1.26,-1.8) (-1.62,0.2) (1.08,4.2) (-1.8,-3.6) (3.42,1.2)
(-0.18,-0.4) (0.54,2.2) (-2.88,-1.4) (-1.08,0.8) (2.16,-3.0) (-1.44,5.0) (1.44,-0.2) (-3.6,1.8) (0.36,-4.6) (2.52,2.6)
(-0.54,-1.0) (0.36,0.4) (-4.14,-2.0) (-2.34,3.6) (3.96,-0.6) (0,1.4) (-1.26,-2.8) (-2.52,0) (1.8,5.6) (0.18,-1.6)
(-0.9,2.0) (2.88,-4.0) (1.98,1.0) (-1.44,-1.2) (-3.24,2.8) (4.5,-2.2) (-0.54,0.6) (-0.9,-5.4) (0.72,3.8) (-2.16,-0.4)
(1.62,1.6) (0,-3.2) (2.88,0.2) (-1.62,2.4) (-3.42,-1.8) (-0.54,4.4) (0.72,-0.8) (-4.68,1.2) (1.62,-2.6) (3.6,3.0)
(-0.9,-0.2) (1.08,1.8) (-2.52,-4.2) (0.18,0.8) (3.06,-1.4) (-1.08,3.4) (0.9,-3.4) (-3.06,0.4) (2.7,4.8) (1.62,-1.0)
(-2.7,2.2) (-0.36,-2.0) (0.72,0) (1.98,-5.0) (4.32,1.4) (-3.78,-0.6) (-0.18,2.6) (-2.16,-2.4) (-0.72,1.0) (-0.72,6.0)
(0.54,5.2) (-2.16,-1.8) (1.44,-4.0) (-0.72,1.0) (2.88,-1.2) (-1.62,2.8) (0.18,-0.2) (3.78,-3.4) (-3.24,1.2) (1.08,-1.0)
(-0.36,3.4) (1.98,-3.0) (-1.26,-1.8) (0.72,3.0) (-2.7,0.4) (4.5,-0.8) (-0.18,-2.2) (1.62,-4.8) (-4.14,4.2) (2.34,0.2)
(-0.9,2.4) (0.36,0.8) (-1.8,0.8) (3.24,-0.6) (-0.54,2.0) (1.26,-4.0) (-2.52,-1.6) (0,1.2) (5.04,-2.8) (-1.44,4.0)
(1.8,3.4) (-3.6,-2.0) (0.9,1.6) (-1.08,-1.2) (2.52,-3.4) (-1.98,2.0) (0.54,0) (-4.86,-2.8) (3.42,4.4) (-0.36,0)
(1.44,-0.4) (-2.88,3.4) (0.18,-0.6) (2.16,5.6) (-1.62,-5.4) (3.96,1.0) (-0.72,-1.0) (1.08,-3.6) (-2.34,2.6) (2.7,1.8)
(-0.18,-2.4) (1.62,-1.2) (-3.78,1.4) (0.72,-2.6) (-1.26,2.2) (3.06,0.8) (-3.06,-4.4) (0.36,-0.6) (4.32,2.0) (-0.9,2.8)
(1.98,-1.4) (-1.8,0.2) (0,0.6) (-4.5,-3.8) (1.26,4.8) (-0.54,-2.4) (2.34,-0.2) (-2.16,0.6) (0.9,3.0) (5.4,-2.4)
(-1.08,0) (1.62,-3.0) (-3.42,-1.6) (2.88,4.8) (-1.44,1.2) (0.54,0.4) (-2.52,-5.8) (3.6,-0.2) (-0.36,2.2) (1.08,-1.2)
(-5.22,5.0) (2.16,2.4) (-0.72,-4.2) (0.18,3.8) (-1.98,-3.2) (3.42,-1.8) (-1.62,0.4) (1.44,3.0) (-2.88,1.8) (4.68,-0.8)
(-0.9,-1.6) (0.72,1.4) (-2.34,-0.6) (2.52,-1.0) (-0.18,0.8) (1.26,2.2) (-3.96,-2.6) (1.8,0.4) (-1.26,-1.4) (0.36,1.8)
(-3.24,-1.2) (3.06,2.0) (-0.54,-3.8) (1.62,0.2) (-2.7,-0.6) (4.14,3.2) (-1.08,1.2) (0.9,-2.4) (-4.32,1.6) (2.7,-1.6)
(-1.8,4.0) (0,-0.4) (-1.44,-2.8) (1.98,0.6) (-3.06,-0.4) (0.54,4.6) (3.6,2.6) (-0.72,-4.4) (1.08,0) (-2.16,1.4)
(2.34,2.8) (-3.6,-2.0) (1.44,-0.2) (-0.36,1.0) (3.24,-3.2) (-1.98,-2.2) (0.72,1.6) (-1.62,3.6) (5.22,-5.0) (-1.08,0.6)
(1.8,1.0) (-2.52,-0.8) (0.36,2.4) (-5.58,-1.8) (2.88,0) (-0.9,-3.2) (1.26,1.8) (-3.42,3.8) (2.16,0.6) (-0.54,-0.8)
};
\addlegendentry{60 deg}
\addplot[cepline] coordinates {
(2.515,0) (2.324,0.963) (1.778,1.778) (0.963,2.324) (0,2.515) (-0.963,2.324) (-1.778,1.778) (-2.324,0.963)
(-2.515,0) (-2.324,-0.963) (-1.778,-1.778) (-0.963,-2.324) (0,-2.515) (0.963,-2.324) (1.778,-1.778) (2.324,-0.963) (2.515,0)
};
\addlegendentry{CEP = 2.515 km}
\addplot[mip=5pt] coordinates {(0,0)};
\end{axis}

% ---------------- 65 deg ----------------
\begin{axis}[cep, xlab, at={(322.3pt,66.7pt)}, width=194.4pt, height=156.7pt]
\addplot[darkpts] coordinates {
(-0.45,-1.15) (1.8,0.92) (-1.2,2.53) (0.6,-2.99) (-2.4,0.46) (1.35,-1.61) (-0.15,2.07) (-3.15,-1.38) (2.7,2.3) (-0.9,-4.37)
(0.3,0.23) (-1.65,-0.69) (1.05,3.68) (-0.6,1.38) (2.25,-2.76) (-3.75,1.84) (0.15,-1.84) (-1.35,4.6) (3.45,-0.46) (-1.95,-3.22)
(0.75,0.69) (-0.3,-0.46) (1.5,5.29) (-2.7,2.99) (0.45,-5.06) (-1.05,0) (2.1,1.61) (0,3.22) (-4.2,-2.3) (1.2,-0.23)
(-1.5,1.15) (3.0,-3.68) (-0.75,-2.53) (0.9,1.84) (-2.1,4.14) (1.65,-5.75) (-0.45,0.69) (4.05,1.15) (-2.85,-0.92) (0.3,2.76)
(-1.2,-2.07) (2.4,0) (-0.15,-3.68) (-1.8,2.07) (1.35,4.37) (-3.3,0.69) (0.6,-0.92) (-0.9,5.98) (1.95,-2.07) (-2.25,-4.6)
(0.15,1.15) (-1.35,-1.38) (3.15,3.22) (-0.6,-0.23) (1.05,-3.91) (-2.55,1.38) (2.55,-1.15) (-0.3,3.91) (-3.6,-3.45) (0.75,-2.07)
(-1.65,3.45) (1.5,0.46) (0,-0.92) (3.75,-2.53) (-1.05,-5.52) (0.45,4.83) (-1.95,0.23) (1.8,2.76) (-0.75,0.92) (-4.5,0.92)
(0.9,-0.69) (-1.35,2.3) (2.85,-4.6) (-2.4,-1.84) (1.2,1.38) (-0.45,-3.22) (2.1,4.6) (-3.0,3.91) (0.3,-2.3) (-0.9,1.84)
(4.35,-1.38) (-1.8,-3.91) (0.6,2.3) (-0.15,0) (1.65,-3.22) (-2.85,5.06) (1.35,0) (-1.2,-0.46) (2.4,3.91) (-3.9,-0.69)
(0.75,6.44) (-0.6,-6.21) (1.95,1.15) (-2.1,-1.15) (0.15,-4.14) (-1.05,2.99) (3.3,2.07) (-1.5,-2.76) (1.05,-1.38) (-0.3,1.61)
(2.7,-2.99) (-2.55,2.53) (0.45,0.92) (-1.35,-5.06) (2.25,-0.69) (-3.45,2.3) (0.9,3.22) (-0.75,-1.61) (3.6,0.23) (-2.25,0.69)
(1.5,-4.37) (0,5.52) (1.2,-2.76) (-1.65,-0.23) (2.55,0.69) (-0.45,3.45) (-3.0,-2.76) (0.6,0) (-0.9,-3.45) (1.8,-1.84)
(-1.95,5.52) (3.0,1.38) (-1.2,0.46) (0.3,-6.67) (-2.7,-0.23) (1.65,2.53) (-0.6,-1.38) (1.35,5.75) (-4.35,2.76) (0.9,-4.83)
(-1.5,4.37) (2.1,-3.68) (-0.3,-2.07) (4.65,0.46) (-2.4,3.45) (0.75,2.07) (-1.05,-0.92) (2.85,-1.84) (-1.8,1.61) (0.45,-0.69)
(-0.45,1.38) (1.5,-2.07) (-3.0,4.37) (-1.2,-3.68) (0.9,1.84) (-2.1,-0.69) (3.0,3.22) (2.55,-4.6) (-1.5,0.46) (1.2,-1.38)
(-0.9,6.67) (-2.55,-2.76) (1.5,0.92) (0,-0.23) (-2.1,2.53) (3.3,-4.37) (0,2.07) (-0.3,-1.84) (2.55,3.68) (-0.45,-5.98)
(4.2,1.15) (-4.05,-0.92) (0.75,2.99) (-0.75,-3.22) (-2.7,0.23) (1.95,-1.61) (1.35,5.06) (-1.8,-2.3) (-0.9,1.61) (1.05,-0.46)
(-1.95,4.14) (1.65,-3.91) (0.6,0.69) (-3.3,-2.07) (-0.45,3.45) (1.5,-5.29) (2.1,1.38) (-1.05,-1.15) (0.15,5.52) (0.45,-3.45)
(-2.85,2.3) (3.6,0) (-1.8,1.84) (-0.15,-2.53) (0.45,3.91) (2.25,-0.69) (-1.8,-4.6) (0,0.92) (-2.25,-1.38) (-1.2,2.76)
(3.6,-2.99) (0.9,4.6) (0.3,-1.84) (-4.35,0.46) (-0.15,-4.14) (1.65,2.53) (-0.9,-0.92) (3.75,2.07) (1.8,-6.67) (-3.15,1.38)
(2.85,-2.3) (-2.4,3.22) (-1.35,-0.46) (0.3,7.13) (2.25,-3.68) (1.35,1.15) (-0.6,-1.61) (-1.2,4.37) (1.05,-2.76) (-0.45,0.69)
(-0.45,-5.98) (1.8,2.07) (-1.2,4.6) (0.6,-1.15) (-2.4,1.38) (1.35,-3.22) (-0.15,0.23) (-3.15,3.91) (2.7,-1.38) (-0.9,1.15)
(0.3,-3.91) (-1.65,3.45) (1.05,2.07) (-0.6,-3.45) (2.25,-0.46) (-3.75,0.92) (0.15,2.53) (-1.35,5.52) (3.45,-4.83) (-1.95,-0.23)
(0.75,-2.76) (-0.3,-0.92) (1.5,-0.92) (-2.7,0.69) (0.45,-2.3) (-1.05,4.6) (2.1,1.84) (0,-1.38) (-4.2,3.22) (1.2,-4.6)
(-1.5,-3.91) (3.0,2.3) (-0.75,-1.84) (0.9,1.38) (-2.1,3.91) (1.65,-2.3) (-0.45,0) (4.05,3.22) (-2.85,-5.06) (0.3,0)
(-1.2,0.46) (2.4,-3.91) (-0.15,0.69) (-1.8,-6.44) (1.35,6.21) (-3.3,-1.15) (0.6,1.15) (-0.9,4.14) (1.95,-2.99) (-2.25,-2.07)
(0.15,2.76) (-1.35,1.38) (3.15,-1.61) (-0.6,2.99) (1.05,-2.53) (-2.55,-0.92) (2.55,5.06) (-0.3,0.69) (-3.6,-2.3) (0.75,-3.22)
(-1.65,1.61) (1.5,-0.23) (0,-0.69) (3.75,4.37) (-1.05,-5.52) (0.45,2.76) (-1.95,0.23) (1.8,-0.69) (-0.75,-3.45) (-4.5,2.76)
(0.9,0) (-1.35,3.45) (2.85,1.84) (-2.4,-5.52) (1.2,-1.38) (-0.45,-0.46) (2.1,6.67) (-3.0,0.23) (0.3,-2.53) (-0.9,1.38)
(4.35,-5.75) (-1.8,-2.76) (0.6,4.83) (-0.15,-4.37) (1.65,3.68) (-2.85,2.07) (1.35,-0.46) (-1.2,-3.45) (2.4,-2.07) (-3.9,0.92)
(0.75,1.84) (-0.6,-1.61) (1.95,0.69) (-2.1,1.15) (0.15,-0.92) (-1.05,-2.53) (3.3,2.99) (-1.5,-0.46) (1.05,1.61) (-0.3,-2.07)
(2.7,1.38) (-2.55,-2.3) (0.45,4.37) (-1.35,-0.23) (2.25,0.69) (-3.45,-3.68) (0.9,-1.38) (-0.75,2.76) (3.6,-1.84) (-2.25,1.84)
(1.5,-4.6) (0,0.46) (1.2,3.22) (-1.65,-0.69) (2.55,0.46) (-0.45,-5.29) (-3.0,-2.99) (0.6,5.06) (-0.9,0) (1.8,-1.61)
(-1.95,-3.22) (3.0,2.3) (-1.2,0.23) (0.3,-1.15) (-2.7,3.68) (1.65,2.53) (-0.6,-1.84) (1.35,-4.14) (-4.35,5.75) (0.9,-0.69)
(-1.5,-1.15) (2.1,0.92) (-0.3,-2.76) (4.65,2.07) (-2.4,0) (0.75,3.68) (-1.05,-2.07) (2.85,-4.37) (-1.8,-0.69) (0.45,0.92)
};
\addlegendentry{65 deg}
\addplot[cepline] coordinates {
(2.533,0) (2.340,0.969) (1.791,1.791) (0.969,2.340) (0,2.533) (-0.969,2.340) (-1.791,1.791) (-2.340,0.969)
(-2.533,0) (-2.340,-0.969) (-1.791,-1.791) (-0.969,-2.340) (0,-2.533) (0.969,-2.340) (1.791,-1.791) (2.340,-0.969) (2.533,0)
};
\addlegendentry{CEP = 2.533 km}
\addplot[mip=5pt] coordinates {(0,0)};
\end{axis}

% ---------------- 70 deg ----------------
\begin{axis}[cep, xlab, at={(567.7pt,66.7pt)}, width=198pt, height=156.7pt]
\addplot[darkpts] coordinates {
(-0.7,0.78) (0.56,-3.12) (1.54,2.08) (-1.82,-1.04) (0.28,4.16) (-0.98,-2.34) (1.26,0.26) (-0.84,5.46) (1.4,-4.68) (-2.66,1.56)
(0.14,-0.52) (-0.42,2.86) (2.24,-1.82) (0.84,1.04) (-1.68,-3.9) (1.12,6.5) (-1.12,-0.26) (2.8,2.34) (-0.28,-5.98) (-1.96,3.38)
(0.42,-1.3) (-0.28,0.52) (3.22,-2.6) (1.82,4.68) (-3.08,-0.78) (0,1.82) (0.98,-3.64) (1.96,0) (-1.4,7.28) (-0.14,-2.08)
(0.7,2.6) (-2.24,-5.2) (-1.54,1.3) (1.12,-1.56) (2.52,3.64) (-3.5,-2.86) (0.42,0.78) (0.7,-7.02) (-0.56,4.94) (1.68,-0.52)
(-1.26,2.08) (0,-4.16) (-2.24,0.26) (1.26,3.12) (2.66,-2.34) (0.42,5.72) (-0.56,-1.04) (3.64,1.56) (-1.26,-3.38) (-2.8,3.9)
(0.7,-0.26) (-0.84,2.34) (1.96,-5.46) (-0.14,1.04) (-2.38,-1.82) (0.84,4.42) (-0.7,-4.42) (2.38,0.52) (-2.1,6.24) (-1.26,-1.3)
(2.1,2.86) (0.28,-2.6) (-0.56,0) (-1.54,-6.5) (-3.36,1.82) (2.94,-0.78) (0.14,3.38) (1.68,-3.12) (0.56,1.3) (0.56,7.8)
(-0.42,-1.56) (1.4,2.34) (-2.8,-4.94) (-1.12,4.16) (0.84,-2.08) (-1.96,0.78) (2.8,-3.64) (2.38,5.2) (-1.4,-0.52) (1.12,1.56)
(-0.84,-7.54) (-2.38,3.12) (1.4,-1.04) (0,0.26) (-1.96,-2.86) (3.08,4.94) (0,-2.34) (-0.28,2.08) (2.38,-4.16) (-0.42,6.76)
(3.92,-1.3) (-3.78,1.04) (0.7,-3.38) (-0.7,3.64) (-2.52,-0.26) (1.82,1.82) (1.26,-5.72) (-1.68,2.6) (-0.84,-1.82) (0.98,0.52)
(-1.82,-4.68) (1.54,4.42) (0.56,-0.78) (-3.08,2.34) (-0.42,-3.9) (1.4,5.98) (1.96,-1.56) (-0.98,1.3) (0.14,-6.24) (0.42,3.9)
(-2.66,-2.6) (3.36,0) (-1.68,-2.08) (-0.14,2.86) (0.42,-4.42) (2.1,0.78) (-1.68,5.2) (0,-1.04) (-2.1,1.56) (-1.12,-3.12)
(3.36,3.38) (0.84,-5.2) (0.28,2.08) (-4.06,-0.52) (-0.14,4.68) (1.54,-2.86) (-0.84,1.04) (3.5,-2.34) (1.68,7.54) (-2.94,-1.56)
(2.66,2.6) (-2.24,-3.64) (-1.26,0.52) (0.28,-7.9) (2.1,4.16) (1.26,-1.3) (-0.56,1.82) (-1.12,-4.94) (0.98,3.12) (-0.42,-0.78)
(-0.42,-1.3) (1.68,1.04) (-1.12,2.86) (0.56,-3.38) (-2.24,0.52) (1.26,-1.82) (-0.14,2.34) (-2.94,-1.56) (2.52,2.6) (-0.84,-4.94)
(0.28,0.26) (-1.54,-0.78) (0.98,4.16) (-0.56,1.56) (2.1,-3.12) (-3.5,2.08) (0.14,-2.08) (-1.26,5.2) (3.22,-0.52) (-1.82,-3.64)
(0.7,0.78) (-0.28,-0.52) (1.4,5.98) (-2.52,3.38) (0.42,-5.72) (-0.98,0) (1.96,1.82) (0,3.64) (-3.92,-2.6) (1.12,-0.26)
(-1.4,1.3) (2.8,-4.16) (-0.7,-2.86) (0.84,2.08) (-1.96,4.68) (1.54,-6.5) (-0.42,0.78) (3.78,1.3) (-2.66,-1.04) (0.28,3.12)
(-1.12,-2.34) (2.24,0) (-0.14,-4.16) (-1.68,2.34) (1.26,4.94) (-3.08,0.78) (0.56,-1.04) (-0.84,6.76) (1.82,-2.34) (-2.1,-5.2)
(0.14,1.3) (-1.26,-1.56) (2.94,3.64) (-0.56,-0.26) (0.98,-4.42) (-2.38,1.56) (2.38,-1.3) (-0.28,4.42) (-3.36,-3.9) (0.7,-2.34)
(-1.54,3.9) (1.4,0.52) (0,-1.04) (3.5,-2.86) (-0.98,-6.24) (0.42,5.46) (-1.82,0.26) (1.68,3.12) (-0.7,1.04) (-4.2,1.04)
(-3.64,0.78) (1.26,-3.12) (2.8,2.08) (-0.7,-1.04) (0.84,4.16) (-1.96,-2.34) (0.14,0.26) (2.38,5.46) (-0.84,-4.68) (0.7,1.56)
(-2.38,-0.52) (2.1,2.86) (1.26,-1.82) (-2.1,1.04) (-0.28,-3.9) (0.56,6.5) (1.54,-0.26) (3.36,2.34) (-2.94,-5.98) (-0.14,3.38)
(-1.68,-1.3) (-0.56,0.52) (-0.56,-2.6) (0.42,4.68) (-1.4,-0.78) (2.8,1.82) (1.12,-3.64) (-0.84,0) (1.96,7.28) (-2.8,-2.08)
(-2.38,2.6) (1.4,-5.2) (-1.12,1.3) (0.84,-1.56) (2.38,3.64) (-1.4,-2.86) (0,0.78) (1.96,-7.02) (-3.08,4.94) (0,-0.52)
(0.28,2.08) (-2.38,-4.16) (0.42,0.26) (-3.92,3.12) (3.78,-2.34) (-0.7,5.72) (0.7,-1.04) (2.52,1.56) (-1.82,-3.38) (-1.26,3.9)
(1.68,-0.26) (0.84,2.34) (-0.98,-5.46) (1.82,1.04) (-1.54,-1.82) (-0.56,4.42) (3.08,-4.42) (0.42,0.52) (-1.4,6.24) (-1.96,-1.3)
(0.98,2.86) (-0.14,-2.6) (-0.42,0) (2.66,-6.5) (-3.36,1.82) (1.68,-0.78) (0.14,3.38) (-0.42,-3.12) (-2.1,1.3) (1.68,7.8)
(0,-1.56) (2.1,2.34) (1.12,-4.94) (-3.36,4.16) (-0.84,-2.08) (-0.28,0.78) (4.06,-3.64) (0.14,5.2) (-1.54,-0.52) (0.84,1.56)
(-3.5,-7.54) (-1.68,3.12) (2.94,-1.04) (-2.66,0.26) (2.24,-2.86) (1.26,4.94) (-0.28,-2.34) (-2.1,2.08) (-1.26,-4.16) (0.56,6.76)
(1.12,-1.3) (-0.98,1.04) (0.42,-3.38) (0.7,3.64) (-0.56,-0.26) (-1.54,1.82) (1.82,-5.72) (-0.28,2.6) (0.98,-1.82) (-1.26,0.52)
(0.84,-4.68) (-1.4,4.42) (2.66,-0.78) (-0.14,2.34) (0.42,-3.9) (-2.24,5.98) (-0.84,-1.56) (1.68,1.3) (-1.12,-6.24) (1.12,3.9)
(-2.8,-2.6) (0.28,0) (1.96,-2.08) (-0.42,2.86) (0.28,-4.42) (-3.22,0.78) (-1.82,5.2) (3.08,-1.04) (0,1.56) (-0.98,-3.12)
(-1.96,3.38) (1.4,-5.2) (0.14,2.08) (-0.7,-0.52) (2.24,4.68) (1.54,-2.86) (-1.12,1.04) (-2.52,-2.34) (3.5,7.54) (-0.42,-1.56)
(-0.7,2.6) (0.56,-3.64) (-1.68,0.52) (1.26,-7.9) (0,4.16) (2.24,-1.3) (-1.26,1.82) (-2.66,-4.94) (-0.42,3.12) (0.56,-0.78)
};
\addlegendentry{70 deg}
\addplot[cepline] coordinates {
(2.839,0) (2.623,1.087) (2.007,2.007) (1.087,2.623) (0,2.839) (-1.087,2.623) (-2.007,2.007) (-2.623,1.087)
(-2.839,0) (-2.623,-1.087) (-2.007,-2.007) (-1.087,-2.623) (0,-2.839) (1.087,-2.623) (2.007,-2.007) (2.623,-1.087) (2.839,0)
};
\addlegendentry{CEP = 2.839 km}
\addplot[mip=5pt] coordinates {(0,0)};
\end{axis}

% chart borders and outer frame
\draw[sepgray, line width=1.2pt] (287pt,643pt) -- (287pt,7pt);
\draw[sepgray, line width=1.2pt] (533pt,643pt) -- (533pt,7pt);
\draw[sepgray, line width=1.2pt] (12.6pt,440pt) -- (772pt,440pt);
\draw[sepgray, line width=1.2pt] (12.6pt,240pt) -- (772pt,240pt);
\draw[sepgray, line width=1.2pt] (12.6pt,7pt) -- (772pt,7pt);
\draw[black!88, line width=3.6pt, line join=miter] (10.8pt,0pt) -- (10.8pt,644.2pt) -- (772pt,644.2pt);
\end{tikzpicture}
\end{document}
